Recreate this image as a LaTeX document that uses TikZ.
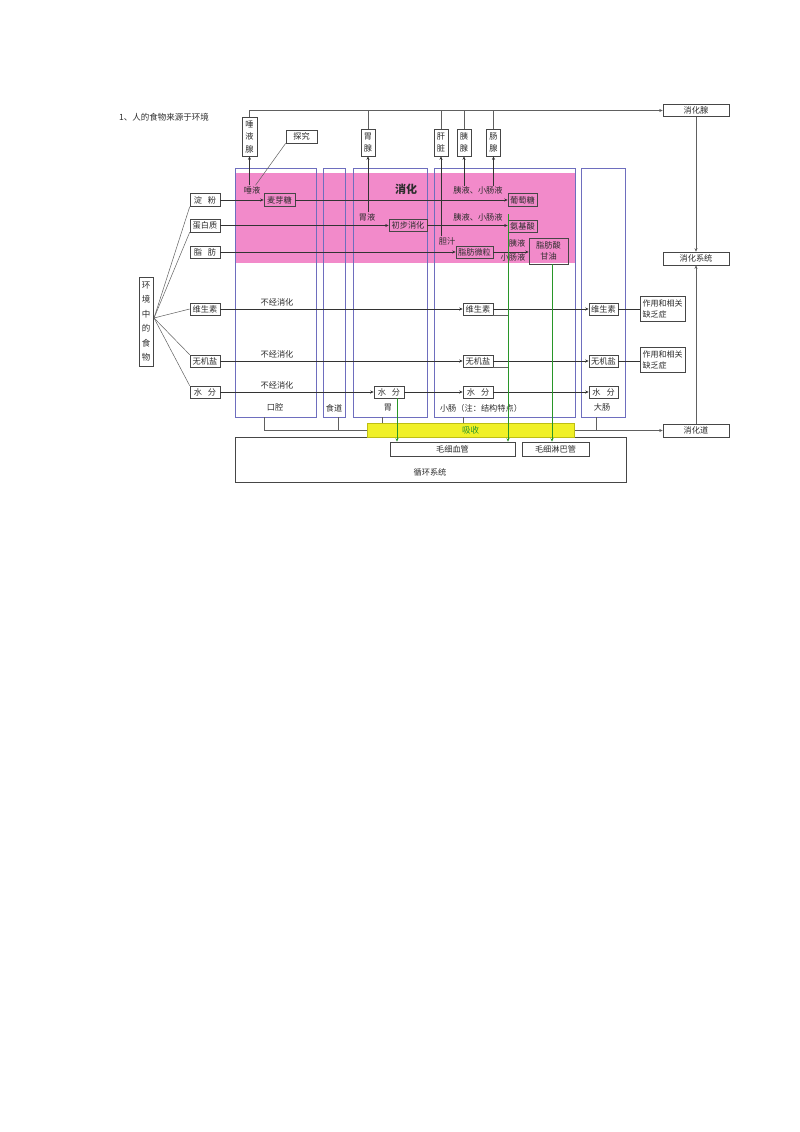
\documentclass[tikz,border=0pt]{standalone}
\usepackage{fontspec}
\newfontfamily\cjk{Noto Sans CJK SC}
\usetikzlibrary{arrows.meta,calc}
\definecolor{pinkfill}{RGB}{242,138,202}
\definecolor{colline}{RGB}{110,110,190}
\definecolor{yel}{RGB}{240,240,40}
\definecolor{yelb}{RGB}{190,190,20}
\definecolor{grn}{RGB}{40,150,40}
\definecolor{txt}{RGB}{45,45,45}
\begin{document}
\begin{tikzpicture}[x=1pt,y=-1pt,
  sz/.style 2 args={minimum width=#1pt,minimum height=#2pt},
  bx/.style={draw=gray!55!black,line width=0.6pt,inner sep=0pt,font=\cjk\fontsize{8.2}{9}\selectfont,text=txt,align=center},
  vbx/.style={bx,font=\cjk\fontsize{8.2}{12.5}\selectfont},
  col/.style={draw=colline,line width=0.7pt,inner sep=0pt},
  lbl/.style={inner sep=0pt,font=\cjk\fontsize{8.2}{9}\selectfont,text=txt},
  arr/.style={-{Stealth[length=3.5pt,width=3pt]}},
  gl/.style={draw=gray!75!black,line width=0.5pt},
  dk/.style={draw=black!80,line width=0.6pt},
  gr/.style={draw=grn,line width=0.6pt}]
\fill[white] (0,0) rectangle (800,1132);
\useasboundingbox (0,0) rectangle (800,1132);

% title
\node[lbl,anchor=west,font=\cjk\fontsize{8.5}{9}\selectfont] (title) at (119,117) {1、人的食物来源于环境};

% pink digestion zone
\fill[pinkfill] (235,173) rectangle (575,263);

% columns
\node[col,sz={81}{249}] (kq) at (275.5,292.5) {};
\node[col,sz={22}{249}] (sd) at (334,292.5) {};
\node[col,sz={74}{249}] (wei) at (390,292.5) {};
\node[col,sz={141}{249}] (xc) at (504.5,292.5) {};
\node[col,sz={44}{249}] (dc) at (603,292.5) {};
\node[lbl] (lkq) at (275,407) {口腔};
\node[lbl] (lsd) at (334,408) {食道};
\node[lbl] (lwei) at (388,408) {胃};
\node[lbl] (lxc) at (481,408) {小肠（注：结构特点）};
\node[lbl] (ldc) at (602,407) {大肠};

% left: environment
\node[bx,sz={14}{89},font=\cjk\fontsize{8.5}{14.5}\selectfont] (env) at (146,321.5) {环\\境\\中\\的\\食\\物};
\coordinate (fan) at (154,318);
\node[bx,sz={30}{13}] (dianfen) at (205,200) {淀\hspace{6pt}粉};
\node[bx,sz={30}{13}] (danbai) at (205,225.5) {蛋白质};
\node[bx,sz={30}{12}] (zhifang) at (205,252) {脂\hspace{6pt}肪};
\node[bx,sz={30}{12}] (weisheng) at (205,309) {维生素};
\node[bx,sz={30}{12}] (wuji) at (205,361) {无机盐};
\node[bx,sz={30}{12}] (shui) at (205,392) {水\hspace{6pt}分};
\draw[gl] (fan) -- (dianfen.south west);
\draw[gl] (fan) -- (danbai.south west);
\draw[gl] (fan) -- (weisheng.west);
\draw[gl] (fan) -- (wuji.north west);
\draw[gl] (fan) -- (shui.north west);

% glands
\node[vbx,sz={15}{39}] (tuoye) at (249.5,136.5) {唾\\液\\腺};
\node[bx,sz={31}{13}] (tanjiu) at (301.5,136.5) {探究};
\node[vbx,sz={14}{27}] (weixian) at (368,142.5) {胃\\腺};
\node[vbx,sz={14}{27}] (ganzang) at (441,142.5) {肝\\脏};
\node[vbx,sz={14}{27}] (yixian) at (464,142.5) {胰\\腺};
\node[vbx,sz={14}{27}] (changxian) at (493.5,142.5) {肠\\腺};

% right side
\node[bx,sz={66}{12}] (xhx) at (696,110.5) {消化腺};
\node[bx,sz={66}{13}] (xhxt) at (696,258.5) {消化系统};
\node[bx,sz={66}{13}] (xhd) at (696,430.5) {消化道};
\node[bx,sz={45}{25},align=left,font=\cjk\fontsize{8}{11}\selectfont] (zy1) at (662.5,308.5) {作用和相关\\缺乏症};
\node[bx,sz={45}{25},align=left,font=\cjk\fontsize{8}{11}\selectfont] (zy2) at (662.5,360) {作用和相关\\缺乏症};

% texts in digestion zone
\node[lbl] (tyl) at (252,190) {唾液};
\node[lbl,font=\cjk\bfseries\fontsize{11}{12}\selectfont] (xhl) at (406,189) {消化};
\node[lbl] (yy1) at (478,190) {胰液、小肠液};
\node[lbl] (wyl) at (367,217) {胃液};
\node[lbl] (yy2) at (478,217) {胰液、小肠液};
\node[lbl] (dzl) at (447,241) {胆汁};
\node[lbl] (yyl) at (517,243) {胰液};
\node[lbl] (xcy) at (513,257) {小肠液};

% product boxes
\node[bx,sz={31}{13}] (maiya) at (279.5,200) {麦芽糖};
\node[bx,sz={29}{13}] (putao) at (522.5,200) {葡萄糖};
\node[bx,sz={38}{12}] (chubu) at (408,225.5) {初步消化};
\node[bx,sz={29}{12}] (anji) at (522.5,226.5) {氨基酸};
\node[bx,sz={37}{12}] (weili) at (474.5,252) {脂肪微粒};
\node[bx,sz={39}{26},font=\cjk\fontsize{8.2}{11}\selectfont] (zfs) at (548.5,251) {脂肪酸\\甘油};

\node[bx,sz={30}{12}] (ws2) at (478,309) {维生素};
\node[bx,sz={30}{12}] (wj2) at (478,361) {无机盐};
\node[bx,sz={30}{12}] (sf2) at (478,392) {水\hspace{6pt}分};
\node[bx,sz={30}{12}] (sf1) at (389,392) {水\hspace{6pt}分};
\node[bx,sz={29}{12}] (ws3) at (603.5,309) {维生素};
\node[bx,sz={29}{12}] (wj3) at (603.5,361) {无机盐};
\node[bx,sz={29}{12}] (sf3) at (603.5,392) {水\hspace{6pt}分};

\node[lbl] (bj1) at (277,302) {不经消化};
\node[lbl] (bj2) at (277,354) {不经消化};
\node[lbl] (bj3) at (277,385) {不经消化};

% bottom: circulation
\node[bx,sz={391}{45}] (xh) at (430.5,459.5) {};
\node[lbl] (xhl2) at (430,472) {循环系统};
\node[bx,sz={125}{14}] (mxxg) at (452.5,449) {毛细血管};
\node[bx,sz={67}{14}] (mxlb) at (555.5,449) {毛细淋巴管};

% bus line to digestive tract
\coordinate (bus) at (0,430.5);
\path ($(kq.south)+(-11.5,0)$) coordinate (bkq);
\path ($(sd.south)+(4,0)$) coordinate (bsd);
\path ($(wei.south)+(-8,0)$) coordinate (bwei);
\path ($(xc.south)+(-41.5,0)$) coordinate (bxc);
\path ($(dc.south)+(-7,0)$) coordinate (bdc);
\foreach \b in {bkq,bsd,bwei,bxc,bdc} \draw[gl] (\b) -- (\b |- bus);
\draw[gl,arr] (bkq |- bus) -- (xhd.west);

% absorption band
\node[draw=yelb,fill=yel,line width=0.6pt,sz={207}{14},inner sep=0pt,text=grn,font=\cjk\fontsize{8.5}{9}\selectfont] (xs) at (470.5,430) {吸收};

% top gland line
\draw[gl,arr] (tuoye.north) |- (xhx.west);
\foreach \g in {weixian,ganzang,yixian,changxian} \draw[gl] (\g.north) -- (\g.north |- xhx.west);
\draw[gl,arr] (xhx.south) -- (xhxt.north);
\draw[gl,arr] (xhd.north) -- (xhxt.south);

% secretion arrows (up into glands)
\path (tuoye.south) ++(0,29) coordinate (t1);
\draw[dk,arr] (t1) -- (tuoye.south);
\path (tanjiu.south west) ++(0,0) coordinate (tj);
\draw[gl] (tj) -- ($(t1)+(6,0)$);
\path (weixian.south) ++(0,56) coordinate (t2);
\draw[dk,arr] (t2) -- (weixian.south);
\path (ganzang.south) ++(0,80) coordinate (t3);
\draw[dk,arr] (t3) -- (ganzang.south);
\path (yixian.south) ++(0,30) coordinate (t4);
\draw[dk,arr] (t4) -- (yixian.south);
\path (changxian.south) ++(0,30) coordinate (t5);
\draw[dk,arr] (t5) -- (changxian.south);

% digestion rows
\draw[dk,arr] (dianfen.east) -- (maiya.west);
\draw[dk,arr] (maiya.east) -- (putao.west);
\draw[dk,arr] (danbai.east) -- (chubu.west);
\draw[dk,arr] (chubu.east) -- (chubu.east -| anji.west);
\draw[dk,arr] (zhifang.east) -- (weili.west);
\draw[dk,arr] (weili.east) -- (weili.east -| zfs.west);

% non-digested rows
\draw[dk,arr] (weisheng.east) -- (ws2.west);
\draw[dk,arr] (ws2.east) -- (ws3.west);
\draw[dk] (ws3.east) -- (zy1.west |- ws3.east);
\draw[dk,arr] (wuji.east) -- (wj2.west);
\draw[dk,arr] (wj2.east) -- (wj3.west);
\draw[dk] (wj3.east) -- (zy2.west |- wj3.east);
\draw[dk,arr] (shui.east) -- (sf1.west);
\draw[dk,arr] (sf1.east) -- (sf2.west);
\draw[dk,arr] (sf2.east) -- (sf3.west);

% absorption lines
\coordinate (g1) at (508,214);
\draw[gr,arr] (g1) -- (g1 |- mxxg.north);
\path ($(zfs.south)+(3.5,0)$) coordinate (g2);
\draw[gr,arr] (g2) -- (g2 |- mxlb.north);
\path ($(sf1.south)+(8,0)$) coordinate (g3);
\draw[gr,arr] (g3) -- (g3 |- mxxg.north);
\draw[gl] (ws2.south east) -- (ws2.south east -| g1);
\draw[gl] (wj2.south east) -- (wj2.south east -| g1);
\end{tikzpicture}
\end{document}
